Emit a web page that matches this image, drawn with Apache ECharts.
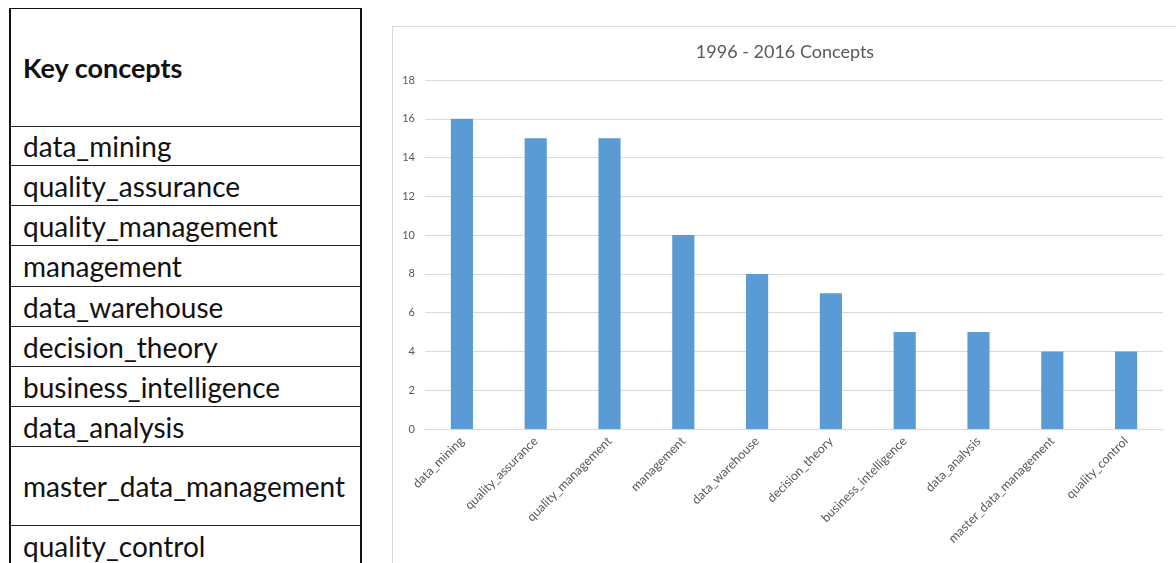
<!DOCTYPE html>
<html>
<head>
<meta charset="utf-8">
<script src="https://cdn.jsdelivr.net/npm/echarts@6/dist/echarts.min.js"></script>
<style>
  html, body { margin: 0; padding: 0; background: #fff; width: 1176px; height: 563px; overflow: hidden; }
  #keyTable {
    position: absolute; left: 9px; top: 8px; width: 353px;
    border-top: 1px solid #111; border-left: 2px solid #111; border-right: 2px solid #111;
    box-sizing: border-box;
    font-family: Lato, "Open Sans", sans-serif; color: #111;
  }
  #keyTable .row {
    box-sizing: border-box; border-bottom: 1px solid #222;
    display: flex; align-items: center; padding-left: 12px;
    font-size: 28px; white-space: nowrap;
  }
  #keyTable .head { font-weight: bold; font-size: 27px; }
  #chartBox {
    position: absolute; left: 392px; top: 26px; width: 784px; height: 560px;
    border: 1px solid #d9d9d9;
  }
</style>
</head>
<body>
<div id="keyTable"></div>
<div id="chartBox"></div>
<script>
  // Concept names and how often each appears
  const tableHeader = 'Key concepts';
  const categories = [
    'data_mining', 'quality_assurance', 'quality_management', 'management',
    'data_warehouse', 'decision_theory', 'business_intelligence', 'data_analysis',
    'master_data_management', 'quality_control'
  ];
  const counts = [16, 15, 15, 10, 8, 7, 5, 5, 4, 4];
  const chartTitle = '1996 - 2016 Concepts';

  // Row heights of the concept table (header first)
  const rowHeights = [118, 39, 40, 40, 41, 40, 40, 40, 40, 79, 40];

  const table = document.getElementById('keyTable');
  [tableHeader].concat(categories).forEach(function (name, i) {
    const row = document.createElement('div');
    row.className = 'row' + (i === 0 ? ' head' : '');
    row.style.height = rowHeights[i] + 'px';
    row.textContent = name;
    table.appendChild(row);
  });

  const chart = echarts.init(document.getElementById('chartBox'), null, { renderer: 'canvas' });
  const labelColor = '#595959';
  const font = 'Lato, "Open Sans", sans-serif';
  chart.setOption({
    animation: false,
    backgroundColor: '#fff',
    title: {
      text: chartTitle, left: 'center', top: 11,
      textStyle: { fontSize: 18, fontWeight: 'normal', color: labelColor, fontFamily: font }
    },
    grid: { left: 32, top: 53, width: 738, height: 349, containLabel: false },
    xAxis: {
      type: 'category', data: categories,
      axisLine: { lineStyle: { color: '#d9d9d9' } },
      axisTick: { show: false },
      axisLabel: { interval: 0, rotate: 45, fontSize: 12.5, color: labelColor, fontFamily: font, margin: 10 }
    },
    yAxis: {
      type: 'value', min: 0, max: 18, interval: 2,
      axisLine: { show: false }, axisTick: { show: false },
      axisLabel: { fontSize: 11, color: labelColor, fontFamily: font, margin: 10 },
      splitLine: { lineStyle: { color: '#d9d9d9' } }
    },
    series: [{
      type: 'bar', data: counts, barWidth: '30%',
      itemStyle: { color: '#5b9bd5' }
    }]
  });
</script>
</body>
</html>
